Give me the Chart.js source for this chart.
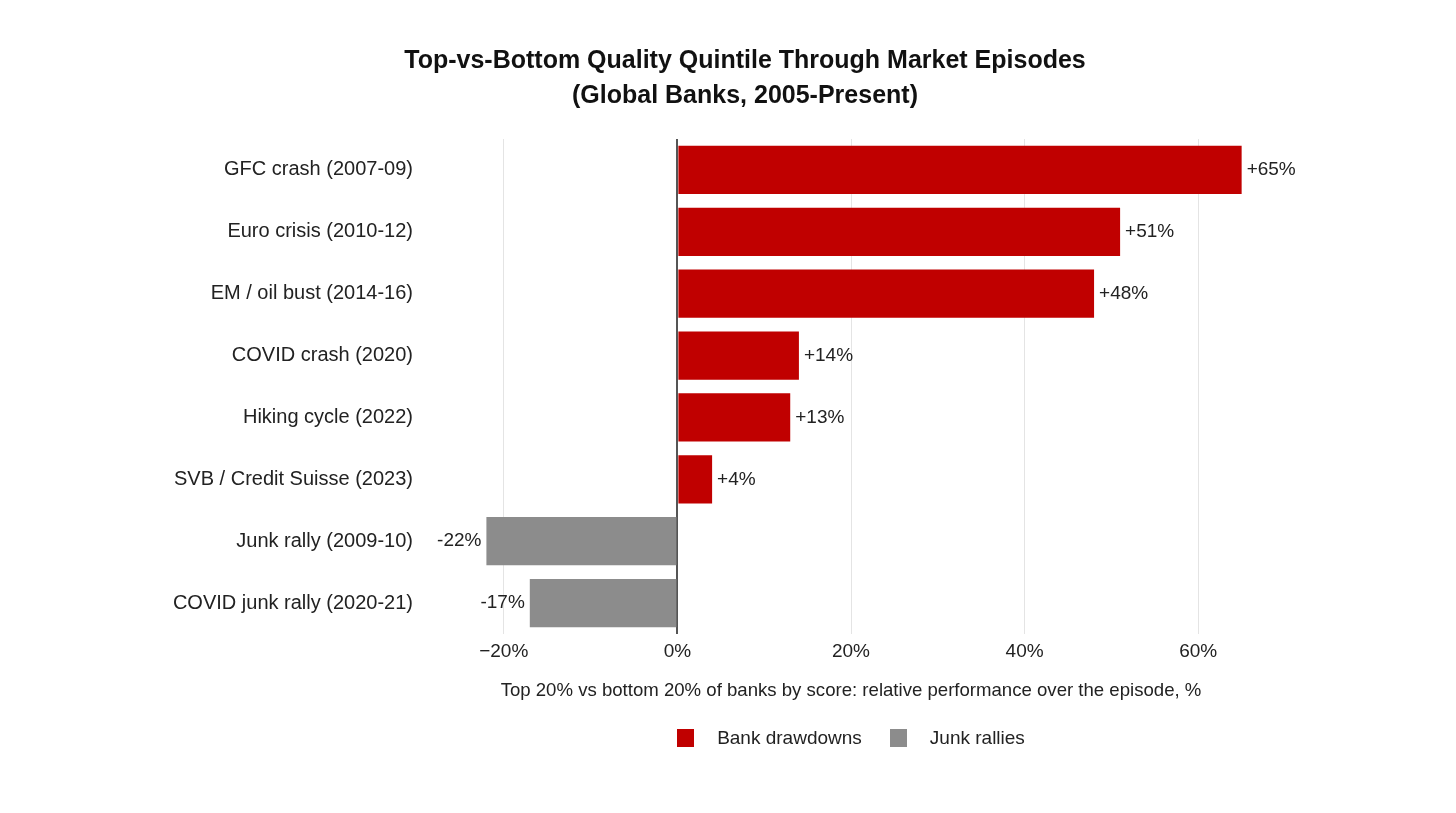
<!DOCTYPE html>
<html>
<head>
<meta charset="utf-8">
<title>Top-vs-Bottom Quality Quintile Through Market Episodes</title>
<script src="https://cdn.jsdelivr.net/npm/chart.js@4.4.1/dist/chart.umd.min.js"></script>
<style>
  html, body { margin: 0; padding: 0; background: #fff; }
  #wrap { position: relative; width: 1456px; height: 813px; font-family: "Liberation Sans", Arial, Helvetica, sans-serif; }
  #title {
    position: absolute; top: 42px; left: 745px; transform: translateX(-50%);
    white-space: nowrap; text-align: center; font-size: 25px; font-weight: bold;
    line-height: 35px; color: #111;
  }
  #legend {
    position: absolute; top: 727px; display: flex; justify-content: center; align-items: center;
    font-size: 19px; color: #222;
  }
  #legend .item { display: flex; align-items: center; margin: 0 14px; }
  #legend .swatch { width: 17px; height: 18px; margin-right: 23px; }
</style>
</head>
<body>
<div id="wrap">
  <div id="title">Top-vs-Bottom Quality Quintile Through Market Episodes<br>(Global Banks, 2005-Present)</div>
  <canvas id="qualityChart" width="1456" height="813"></canvas>
  <div id="legend"></div>
</div>
<script>
// Episodes, top to bottom
const episodes = [
  'GFC crash (2007-09)',
  'Euro crisis (2010-12)',
  'EM / oil bust (2014-16)',
  'COVID crash (2020)',
  'Hiking cycle (2022)',
  'SVB / Credit Suisse (2023)',
  'Junk rally (2009-10)',
  'COVID junk rally (2020-21)'
];
// Relative performance, top vs bottom quintile (%)
const drawdowns = [65, 51, 48, 14, 13, 4, null, null];
const rallies = [null, null, null, null, null, null, -22, -17];
const xTicks = [-20, 0, 20, 40, 60];

const RED = '#c00000';
const GREY = '#8c8c8c';
const TEXT = '#222';

Chart.defaults.font.family = '"Liberation Sans", Arial, Helvetica, sans-serif';
Chart.defaults.color = TEXT;

/**
 * Draw "+65%" / "-22%" at the end of each bar
 */
const valueLabels = {
  id: 'valueLabels',
  afterDatasetsDraw(chart) {
    const ctx = chart.ctx;
    ctx.save();
    ctx.font = '19px ' + Chart.defaults.font.family;
    ctx.fillStyle = TEXT;
    ctx.textBaseline = 'middle';
    chart.data.datasets.forEach((ds, i) => {
      chart.getDatasetMeta(i).data.forEach((bar, j) => {
        const v = ds.data[j];
        if (v == null) return;
        const pos = v >= 0;
        ctx.textAlign = pos ? 'left' : 'right';
        ctx.fillText((pos ? '+' : '-') + Math.abs(v) + '%', bar.x + (pos ? 5 : -5), bar.y);
      });
    });
    ctx.restore();
  }
};

const chart = new Chart(document.getElementById('qualityChart'), {
  type: 'bar',
  data: {
    labels: episodes,
    datasets: [
      { label: 'Bank drawdowns', data: drawdowns, backgroundColor: RED },
      { label: 'Junk rallies', data: rallies, backgroundColor: GREY }
    ]
  },
  options: {
    indexAxis: 'y',
    responsive: false,
    animation: false,
    layout: { padding: { left: 100, right: 197, top: 139, bottom: 104 } },
    datasets: { bar: { grouped: false, categoryPercentage: 1, barPercentage: 0.78, borderWidth: 0 } },
    scales: {
      x: {
        min: -27,
        max: 67,
        afterBuildTicks: scale => { scale.ticks = xTicks.map(v => ({ value: v })); },
        afterFit: scale => { scale.height = 75; },
        grid: {
          drawTicks: false,
          color: c => (c.tick && c.tick.value === 0) ? '#555' : '#e4e4e4',
          lineWidth: c => (c.tick && c.tick.value === 0) ? 2 : 1
        },
        border: { display: false },
        ticks: {
          padding: 6,
          font: { size: 19 },
          color: TEXT,
          callback: v => (v < 0 ? '\u2212' : '') + Math.abs(v) + '%'
        },
        title: {
          display: true,
          text: 'Top 20% vs bottom 20% of banks by score: relative performance over the episode, %',
          font: { size: 18.6 },
          color: TEXT,
          padding: { top: 0, bottom: 7 }
        }
      },
      y: {
        afterFit: scale => { scale.width = 343; },
        grid: { display: false },
        border: { display: false },
        ticks: { padding: 22, font: { size: 20 }, color: TEXT }
      }
    },
    plugins: {
      legend: { display: false },
      tooltip: { enabled: false },
      title: { display: false }
    }
  },
  plugins: [valueLabels]
});

// HTML legend centred under the plot area
const legend = document.getElementById('legend');
legend.style.left = chart.chartArea.left + 'px';
legend.style.width = (chart.chartArea.right - chart.chartArea.left) + 'px';
legend.innerHTML = chart.data.datasets.map(ds => `
  <div class="item">
    <span class="swatch" style="background:${ds.backgroundColor}"></span>
    <span>${ds.label}</span>
  </div>
`).join('');
</script>
</body>
</html>
